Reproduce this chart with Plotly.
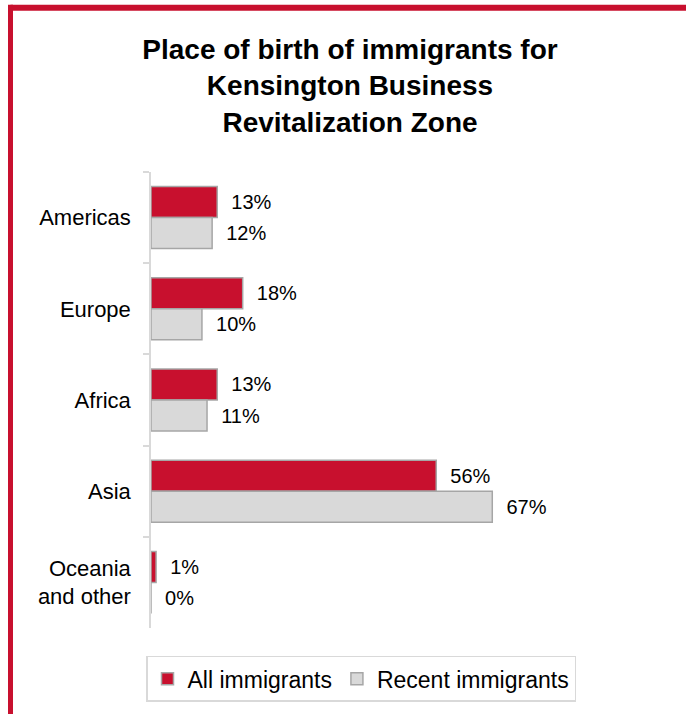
import plotly.graph_objects as go

# data
regions = ["Americas", "Europe", "Africa", "Asia", "Oceania<br>and other"]
all_immigrants = [13, 18, 13, 56, 1]
recent_immigrants = [12, 10, 11, 67, 0]

RED = "#c8102e"
GREY = "#d9d9d9"
EDGE = "#a6a6a6"

W, H = 686, 714
ML, MR, MT, MB = 151, 46, 172, 84
pw = W - ML - MR
ph = H - MT - MB


def px_x(p):
    # pixel -> paper x
    return (p - ML) / pw


def px_y(p):
    # pixel -> paper y
    return (H - MB - p) / ph


fig = go.Figure()

fig.add_trace(go.Bar(
    y=regions,
    x=all_immigrants,
    orientation='h',
    name='All immigrants',
    marker=dict(color=RED, line=dict(color=EDGE, width=1.5)),
    text=[f"  {v}%" for v in all_immigrants],
    textposition='outside',
    textfont=dict(size=20, color='black'),
    cliponaxis=False,
))

fig.add_trace(go.Bar(
    y=regions,
    x=recent_immigrants,
    orientation='h',
    name='Recent immigrants',
    marker=dict(color=GREY, line=dict(color=EDGE, width=1.5)),
    text=[f"  {v}%" for v in recent_immigrants],
    textposition='outside',
    textfont=dict(size=20, color='black'),
    cliponaxis=False,
))

# red frame on the top and left side
fig.add_shape(type='line', xref='paper', yref='paper',
              x0=px_x(10.5), x1=px_x(W + 5), y0=px_y(7), y1=px_y(7),
              line=dict(color=RED, width=6))
fig.add_shape(type='line', xref='paper', yref='paper',
              x0=px_x(10.5), x1=px_x(10.5), y0=px_y(4), y1=px_y(H + 5),
              line=dict(color=RED, width=5))

fig.update_layout(
    width=W,
    height=H,
    margin=dict(l=ML, r=MR, t=MT, b=MB),
    paper_bgcolor='white',
    plot_bgcolor='white',
    font=dict(family='Liberation Sans, Arial, sans-serif', size=20, color='black'),
    barmode='group',
    bargap=0.32,
    bargroupgap=0,
    title=dict(
        text='<b>Place of birth of immigrants for<br>Kensington Business<br>Revitalization Zone</b>',
        x=350 / W, xanchor='center',
        y=1 - 59 / H, yanchor='middle',
        xref='container', yref='container',
        font=dict(size=28, color='black'),
    ),
    xaxis=dict(range=[0, 96], visible=False, fixedrange=True),
    yaxis=dict(
        autorange='reversed',
        showline=True, linecolor=GREY, linewidth=1.5,
        ticks='outside', ticklen=6, tickcolor=GREY, tickwidth=1.5,
        tickson='boundaries',
        ticklabelstandoff=14,
        showgrid=False,
        tickfont=dict(size=22),
    ),
    legend=dict(
        orientation='h',
        x=px_x(361), xanchor='center',
        y=px_y(681), yanchor='middle',
        bordercolor=GREY, borderwidth=1.5,
        font=dict(size=23),
        itemwidth=30,
        traceorder='normal',
    ),
    showlegend=True,
)

fig.write_html("out.html", config={'displayModeBar': False},
               post_script="document.body.style.margin='0';")
